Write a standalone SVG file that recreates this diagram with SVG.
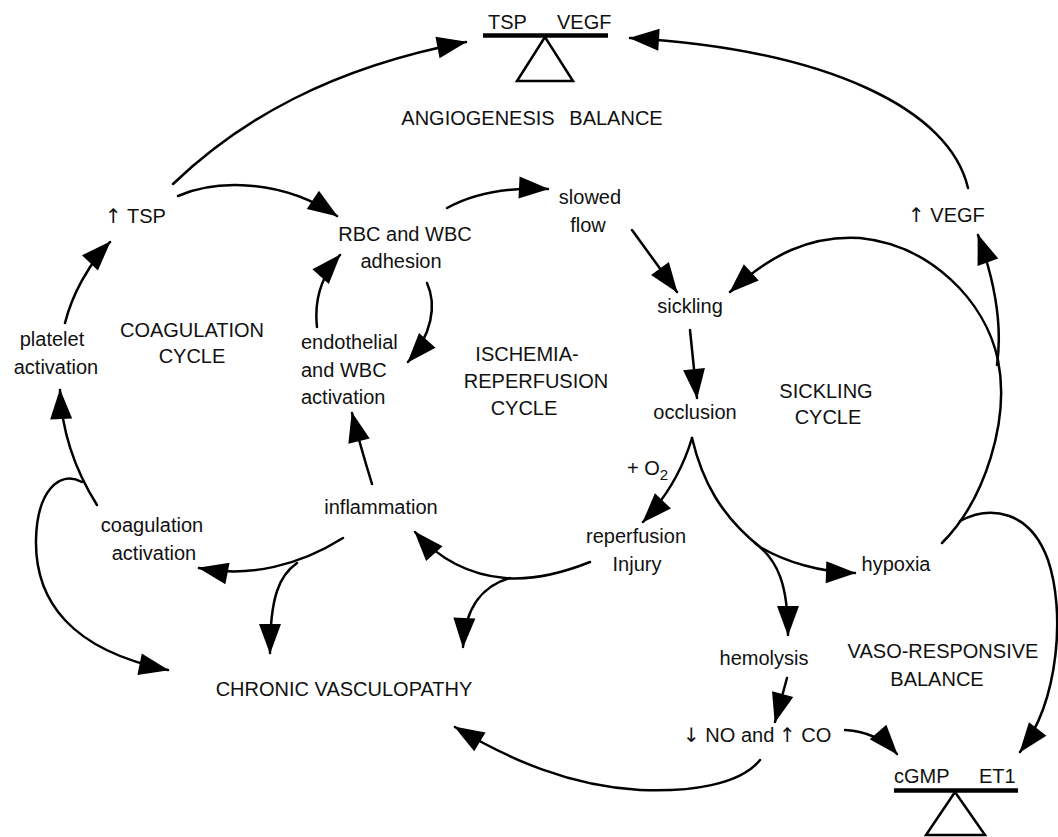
<svg xmlns="http://www.w3.org/2000/svg" width="1058" height="837" viewBox="0 0 1058 837">
<defs>
<marker id="ah" markerUnits="userSpaceOnUse" markerWidth="30" markerHeight="22" refX="29" refY="11" orient="auto" overflow="visible">
<path d="M0,0 L30,11 L0,22 z" fill="#000"/>
</marker>
<style>
text{font-family:"Liberation Sans",Arial,"DejaVu Sans",sans-serif;font-size:20px;fill:#111}
.m{text-anchor:middle}
.ar{font-family:"DejaVu Sans",sans-serif}
.c{fill:none;stroke:#000;stroke-width:2.5;stroke-linecap:round}
.a{marker-end:url(#ah)}
.bar{stroke:#000;stroke-width:4.5}
.tri{fill:#fff;stroke:#000;stroke-width:2.5;stroke-linejoin:miter}
</style>
</defs>
<rect width="1058" height="837" fill="#fff"/>

<g id="connectors">
<path class="c a" d="M173,184 C240,120 330,68 466,42"/>
<path class="c a" d="M968,188 C950,110 830,50 630,38"/>
<path class="c a" d="M178,196 C215,180 280,178 337,216"/>
<path class="c a" d="M447,208 Q487,186 548,189"/>
<path class="c a" d="M632,230 L677,292"/>
<path class="c a" d="M690,330 L697,398"/>
<path class="c a" d="M692,438 Q678,485 643,522"/>
<path class="c a" d="M692,438 C702,480 720,515 760,547 C785,562 820,572 855,573"/>
<path class="c a" d="M755,543 C778,560 788,585 788,635"/>
<path class="c a" d="M787,678 L775,722"/>
<path class="c a" d="M845,730 Q878,732 897,754"/>
<path class="c a" d="M760,760 C740,785 690,792 640,790 C570,786 510,760 455,727"/>
<path class="c a" d="M590,562 C560,574 530,580 505,578 C470,575 440,560 415,532"/>
<path class="c a" d="M510,578 C485,585 465,605 463,647"/>
<path class="c a" d="M372,484 Q360,445 352,413"/>
<path class="c a" d="M343,538 C300,565 250,578 199,568"/>
<path class="c a" d="M297,563 C280,575 270,595 270,653"/>
<path class="c a" d="M97,505 C80,478 62,440 60,390"/>
<path class="c a" d="M82,482 C60,470 37,490 36,540 C35,600 70,650 168,670"/>
<path class="c a" d="M65,323 C72,295 88,265 110,242"/>
<path class="c a" d="M427,283 C437,305 432,335 408,362"/>
<path class="c a" d="M317,327 C314,300 322,275 340,255"/>
<path class="c a" d="M942,543 C985,500 1010,420 998,360 C985,300 930,245 860,238 C810,235 770,255 730,292"/>
<path class="c a" d="M997,365 C1002,330 998,290 978,235"/>
<path class="c a" d="M960,521 C990,505 1030,510 1048,560 C1065,610 1060,700 1020,752"/>
</g>

<g id="angiogenesis-balance">
<polygon class="tri" points="545,37 517,81 573,81"/>
<line class="bar" x1="483" y1="35.5" x2="608" y2="35.5"/>
<text x="488" y="29">TSP</text>
<text x="557" y="29">VEGF</text>
<text class="m" x="478" y="125">ANGIOGENESIS</text>
<text class="m" x="616" y="125">BALANCE</text>
</g>

<g id="vaso-balance">
<polygon class="tri" points="955,792 926,835 985,835"/>
<line class="bar" x1="894" y1="790.5" x2="1018" y2="790.5"/>
<text x="894" y="783">cGMP</text>
<text x="979" y="783">ET1</text>
<text class="m" x="943" y="658">VASO-RESPONSIVE</text>
<text class="m" x="937" y="686">BALANCE</text>
</g>

<g id="tsp"><text x="105" y="223"><tspan class="ar">↑</tspan> TSP</text></g>
<g id="vegf"><text x="908" y="222"><tspan class="ar">↑</tspan> VEGF</text></g>
<g id="adhesion"><text class="m" x="405" y="241">RBC and WBC</text><text class="m" x="401" y="268">adhesion</text></g>
<g id="slowed-flow"><text class="m" x="590" y="204">slowed</text><text class="m" x="588" y="232">flow</text></g>
<g id="sickling"><text class="m" x="690" y="313">sickling</text></g>
<g id="occlusion"><text class="m" x="695" y="419">occlusion</text></g>
<g id="sickling-cycle"><text class="m" x="826" y="398">SICKLING</text><text class="m" x="828" y="424">CYCLE</text></g>
<g id="ischemia-cycle"><text class="m" x="527" y="361">ISCHEMIA-</text><text class="m" x="536" y="388">REPERFUSION</text><text class="m" x="524" y="415">CYCLE</text></g>
<g id="endothelial"><text x="301" y="349">endothelial</text><text x="301" y="377">and WBC</text><text x="301" y="404">activation</text></g>
<g id="coagulation-cycle"><text class="m" x="192" y="337">COAGULATION</text><text class="m" x="192" y="363">CYCLE</text></g>
<g id="platelet"><text class="m" x="52" y="346">platelet</text><text class="m" x="56" y="374">activation</text></g>
<g id="coagulation"><text class="m" x="152" y="532">coagulation</text><text class="m" x="154" y="560">activation</text></g>
<g id="inflammation"><text class="m" x="381" y="514">inflammation</text></g>
<g id="reperfusion"><text class="m" x="636" y="543">reperfusion</text><text class="m" x="637" y="571">Injury</text></g>
<g id="o2"><text x="627" y="475">+ O<tspan dy="5" font-size="15">2</tspan></text></g>
<g id="hypoxia"><text class="m" x="896" y="571">hypoxia</text></g>
<g id="hemolysis"><text class="m" x="764" y="665">hemolysis</text></g>
<g id="no-co"><text x="683" y="742"><tspan class="ar">↓</tspan> NO and <tspan class="ar" x="779">↑</tspan> CO</text></g>
<g id="vasculopathy"><text class="m" x="344" y="696">CHRONIC VASCULOPATHY</text></g>
</svg>
